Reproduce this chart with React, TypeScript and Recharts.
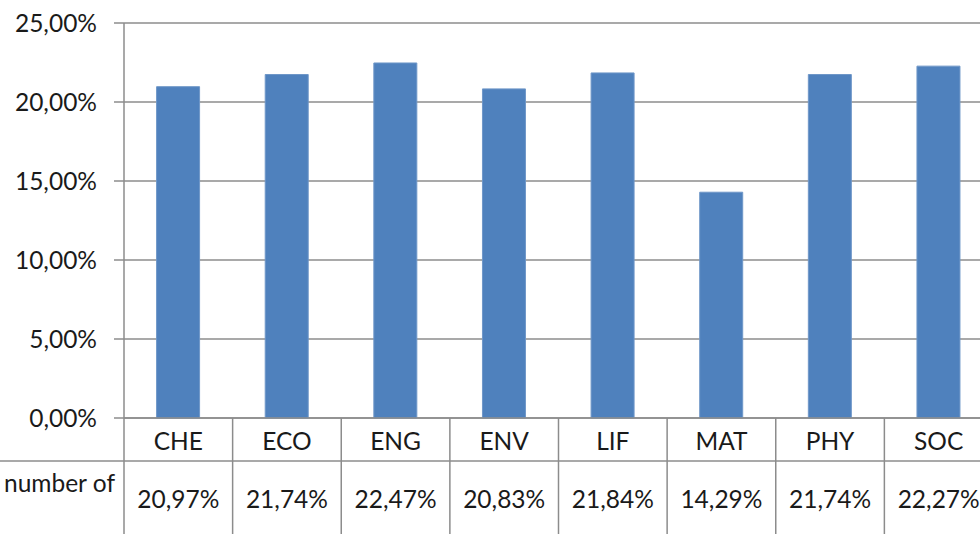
import { BarChart, Bar, XAxis, YAxis, CartesianGrid } from "recharts"

// categories and shares (in %)
const categories = ["CHE", "ECO", "ENG", "ENV", "LIF", "MAT", "PHY", "SOC"]
const values = [20.97, 21.74, 22.47, 20.83, 21.84, 14.29, 21.74, 22.27]
const yTicks = [0, 5, 10, 15, 20, 25]
const rowHeader = "number of"

const data = categories.map((name, i) => ({ name, value: values[i] }))

const FONT = "Lato, 'Open Sans', sans-serif"
const SIZE = 24.5
const LINE = "#8c8c8c"
const TEXT = "#1a1a1a"

const fmt = (v: number) => v.toFixed(2).replace(".", ",") + "%"

function TableTick(props: any) {
  const { x, y, payload, index } = props
  const half = payload && payload.offset ? payload.offset : 54.3
  const left = x - half
  const right = x + half
  return (
    <g>
      <line x1={left} y1={y} x2={left} y2={y + 200} stroke={LINE} strokeWidth={1.5} />
      {index === categories.length - 1 && (
        <line x1={right} y1={y} x2={right} y2={y + 200} stroke={LINE} strokeWidth={1.5} />
      )}
      <line x1={index === 0 ? 0 : left} y1={y + 43} x2={right} y2={y + 43} stroke={LINE} strokeWidth={1.5} />
      <text x={x} y={y + 22} textAnchor="middle" dominantBaseline="central" fontSize={SIZE} fontFamily={FONT} fill={TEXT}>
        {payload.value}
      </text>
      <text x={x} y={y + 80} textAnchor="middle" dominantBaseline="central" fontSize={SIZE} fontFamily={FONT} fill={TEXT}>
        {fmt(values[index])}
      </text>
      {index === 0 && (
        <text x={left - 9} y={y + 64} textAnchor="end" dominantBaseline="central" fontSize={SIZE} fontFamily={FONT} fill={TEXT}>
          {rowHeader}
        </text>
      )}
    </g>
  )
}

export default function App() {
  return (
    <div style={{ position: "fixed", left: 0, top: 0, width: 980, height: 534, overflow: "hidden", background: "#fff" }}>
      <BarChart
        width={1000}
        height={560}
        data={data}
        margin={{ top: 23, right: 7, left: 0, bottom: 0 }}
        barCategoryGap="30%"
      >
        <CartesianGrid vertical={false} stroke={LINE} strokeWidth={1.5} />
        <XAxis
          dataKey="name"
          height={142}
          tickSize={0}
          tickMargin={0}
          axisLine={{ stroke: LINE, strokeWidth: 1.5 }}
          tick={<TableTick />}
          interval={0}
        />
        <YAxis
          width={124}
          domain={[0, 25]}
          ticks={yTicks}
          tickFormatter={fmt}
          tickSize={10}
          tickMargin={17}
          axisLine={{ stroke: LINE, strokeWidth: 1.5 }}
          tickLine={{ stroke: LINE, strokeWidth: 1.5 }}
          tick={{ fontSize: SIZE, fontFamily: FONT, fill: TEXT }}
        />
        <Bar dataKey="value" fill="#4f81bd" stroke="#6f97c8" strokeWidth={1} isAnimationActive={false} />
      </BarChart>
    </div>
  )
}
